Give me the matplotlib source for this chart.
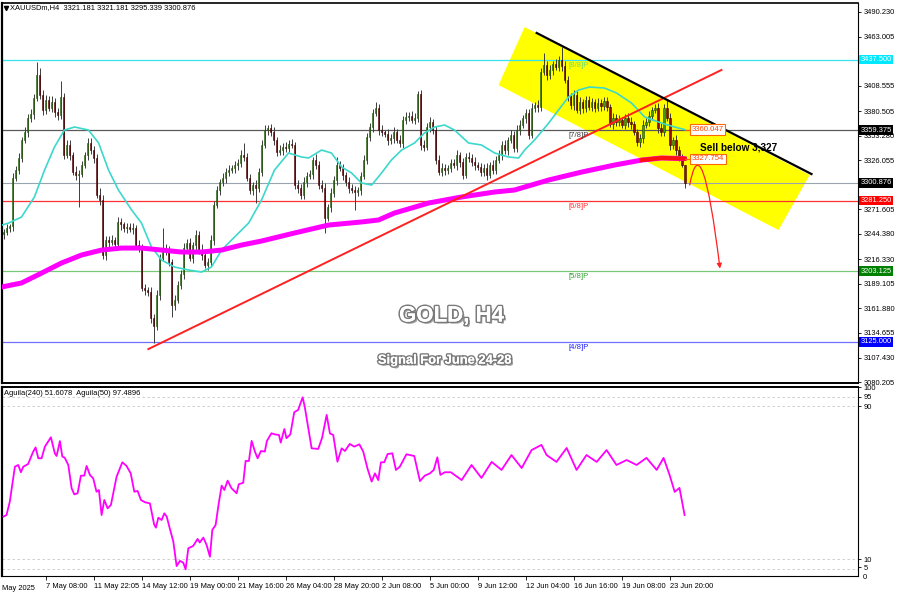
import numpy as np
import matplotlib
matplotlib.use('Agg')
import matplotlib.pyplot as plt
import matplotlib.patheffects as pe
import matplotlib.transforms as mtransforms
from matplotlib.patches import Polygon, FancyArrowPatch
from matplotlib.path import Path

plt.rcParams['font.family'] = ['Liberation Sans', 'DejaVu Sans']

# XAUUSD H4 candles (bar index = position on chart)
first_open = 3244.0
closes = [
    3246.5, 3250.9, 3253.1, 3306.3, 3315.2, 3328.5, 3348.4, 3357.3, 3372.8, 3377.2,
    3394.9, 3420.4, 3398.3, 3381.7, 3392.7, 3383.9, 3390.5, 3379.4, 3376.1, 3396.0,
    3332.0, 3342.9, 3331.8, 3313.0, 3309.6, 3311.0, 3320.7, 3331.8, 3345.1, 3337.3,
    3328.5, 3287.5, 3281.9, 3221.0, 3237.6, 3235.4, 3237.6, 3233.2, 3257.6, 3255.0,
    3250.9, 3252.0, 3249.8, 3250.9, 3232.1, 3228.8, 3184.4, 3182.2, 3180.0, 3151.2,
    3142.3, 3176.7, 3217.7, 3228.8, 3226.5, 3213.2, 3165.6, 3171.1, 3187.8, 3199.9,
    3228.8, 3234.3, 3217.7, 3232.1, 3243.2, 3226.5, 3221.0, 3209.9, 3213.2, 3237.6,
    3276.4, 3293.0, 3301.9, 3306.3, 3313.0, 3315.2, 3317.4, 3320.7, 3322.9, 3331.8,
    3329.6, 3306.3, 3293.0, 3298.6, 3295.2, 3313.0, 3342.9, 3359.5, 3361.7, 3357.3,
    3348.4, 3335.1, 3337.3, 3340.7, 3339.6, 3344.0, 3342.9, 3298.6, 3295.2, 3287.5,
    3301.9, 3308.5, 3310.7, 3326.3, 3320.7, 3298.6, 3295.2, 3262.0, 3274.2, 3289.7,
    3304.1, 3320.7, 3317.4, 3309.6, 3301.9, 3295.2, 3293.0, 3290.8, 3293.0, 3308.5,
    3326.3, 3351.7, 3362.8, 3378.3, 3383.9, 3359.5, 3357.0, 3355.0, 3348.4, 3350.6,
    3357.3, 3348.4, 3345.1, 3370.6, 3373.9, 3375.0, 3370.6, 3372.8, 3399.4, 3342.9,
    3340.7, 3362.8, 3368.4, 3359.5, 3326.3, 3313.0, 3317.4, 3315.2, 3317.4, 3322.9,
    3320.7, 3331.8, 3324.0, 3309.6, 3329.6, 3328.5, 3324.0, 3320.7, 3318.0, 3313.0,
    3317.4, 3309.6, 3320.7, 3315.2, 3326.3, 3331.8, 3342.9, 3337.3, 3348.4, 3354.0,
    3339.6, 3359.5, 3365.0, 3372.8, 3378.3, 3354.0, 3383.9, 3387.2, 3385.0, 3423.8,
    3431.5, 3420.4, 3426.0, 3432.6, 3429.3, 3437.1, 3430.4, 3414.9, 3397.2, 3387.2,
    3398.3, 3381.7, 3390.5, 3383.9, 3392.7, 3385.0, 3390.5, 3383.9, 3389.4, 3386.1,
    3391.6, 3385.0, 3366.1, 3372.8, 3368.4, 3370.6, 3365.0, 3372.8, 3368.4, 3366.0,
    3357.3, 3346.2, 3350.6, 3365.0, 3368.4, 3375.0, 3381.7, 3383.9, 3361.7, 3357.3,
    3383.9, 3372.8, 3342.9, 3348.4, 3337.3, 3329.6, 3321.181, 3300.876,
]
wick_up = [
    3, 4, 2, 6, 4, 5, 3, 5, 4, 6, 5, 14, 8, 5, 6, 4, 7, 5, 4, 18,
    4, 6, 5, 3, 7, 4, 5, 3, 6, 5, 4, 4, 8, 6, 5, 4, 6, 3, 5, 4,
    3, 5, 4, 6, 3, 5, 4, 5, 3, 6, 4, 5, 4, 22, 4, 5, 3, 6, 4, 5,
    5, 4, 6, 3, 5, 4, 7, 3, 5, 6, 4, 5, 3, 6, 4, 5, 3, 4, 5, 6,
    13, 4, 5, 3, 6, 4, 5, 6, 3, 4, 5, 3, 6, 4, 5, 4, 6, 3, 5, 4,
    6, 5, 4, 3, 7, 4, 5, 6, 3, 5, 4, 9, 5, 4, 3, 6, 5, 4, 3, 5,
    6, 4, 5, 4, 7, 4, 5, 3, 6, 4, 5, 3, 6, 4, 5, 4, 6, 5, 3, 4,
    6, 4, 5, 3, 4, 6, 5, 4, 3, 5, 4, 6, 3, 5, 4, 5, 4, 6, 3, 5,
    4, 5, 3, 6, 4, 5, 4, 6, 3, 5, 4, 5, 6, 3, 5, 4, 5, 3, 6, 4,
    13, 4, 5, 3, 6, 4, 14, 5, 4, 3, 5, 4, 6, 3, 5, 4, 5, 3, 6, 4,
    5, 4, 3, 6, 4, 5, 3, 4, 6, 5, 4, 3, 5, 6, 4, 5, 3, 4, 5, 6,
    4, 9, 5, 3, 6, 4, 3, 0,
]
wick_dn = [
    5, 3, 4, 6, 3, 5, 4, 3, 6, 4, 5, 3, 4, 6, 5, 3, 4, 5, 6, 4,
    5, 4, 6, 3, 5, 35, 4, 3, 5, 4, 6, 3, 5, 4, 6, 5, 3, 4, 5, 6,
    4, 5, 3, 6, 4, 5, 3, 5, 4, 6, 19, 4, 5, 3, 6, 4, 13, 5, 3, 4,
    5, 4, 3, 6, 5, 4, 6, 3, 5, 4, 5, 3, 6, 4, 5, 4, 3, 5, 6, 4,
    5, 3, 4, 6, 17, 4, 5, 3, 6, 4, 5, 4, 3, 6, 4, 5, 3, 4, 6, 5,
    4, 5, 3, 6, 4, 5, 4, 17, 3, 5, 4, 6, 3, 5, 4, 5, 3, 20, 4, 5,
    3, 5, 4, 6, 3, 5, 4, 3, 6, 4, 5, 3, 4, 6, 5, 4, 3, 5, 4, 6,
    5, 3, 6, 4, 5, 3, 4, 6, 5, 4, 3, 5, 6, 4, 3, 5, 4, 6, 3, 5,
    4, 6, 3, 5, 4, 3, 6, 4, 5, 3, 5, 4, 6, 3, 5, 4, 3, 5, 6, 4,
    3, 5, 4, 6, 3, 4, 5, 3, 6, 4, 5, 3, 4, 6, 5, 3, 4, 5, 3, 6,
    4, 5, 3, 6, 4, 5, 3, 4, 6, 5, 3, 4, 5, 6, 3, 5, 4, 3, 5, 4,
    5, 3, 6, 4, 5, 4, 3, 5.5,
]

# moving averages
ma_fast_x = [-0.7, 1.7, 6, 10.3, 13.7, 17, 20.3, 23.7, 28.3, 31.7, 35, 38.3, 42.7, 46, 49.3,
             52.7, 57, 61.7, 66, 69.3, 72.7, 77, 81.7, 86, 90.3, 95, 99.3, 101.7, 106, 109.3,
             112.7, 116, 119.3, 122.7, 126, 129.3, 132.7, 137, 140.3, 143.7, 147, 150.3, 155,
             159.3, 163.7, 168.3, 171.7, 173.7, 177, 181.7, 185, 188.3, 191.7, 195.3, 200.3,
             204.3, 209.3, 213.7, 219.3, 223.7, 227]
ma_fast_y = [3254.0, 3256.4, 3263.1, 3285.3, 3315.2, 3340.7, 3359.5, 3362.8, 3359.5, 3345.1,
             3315.2, 3293.0, 3270.9, 3256.4, 3229.9, 3215.4, 3207.7, 3204.4, 3202.1, 3207.7,
             3226.5, 3240.9, 3256.4, 3281.9, 3315.0, 3334.0, 3329.6, 3328.5, 3337.3, 3334.0,
             3318.5, 3311.9, 3300.8, 3298.5, 3311.9, 3326.3, 3337.3, 3345.1, 3356.2, 3362.8,
             3365.0, 3359.5, 3345.1, 3342.9, 3334.0, 3329.6, 3328.5, 3337.3, 3348.4, 3367.2,
             3381.7, 3396.0, 3403.8, 3407.1, 3406.0, 3400.5, 3389.4, 3373.9, 3367.2, 3362.8,
             3360.0]
ma_slow_x = [-0.7, 6, 12.7, 19.3, 26, 32.7, 39.3, 46, 52.7, 59.3, 66, 72.7, 79.3, 86, 97,
             108.3, 119.3, 125, 130.3, 141.7, 152.7, 163.7, 170.3, 181.7, 192.7, 203.7,
             212.7, 219.3, 227]
ma_slow_y = [3185.5, 3190.0, 3201.0, 3212.1, 3221.0, 3226.5, 3228.7, 3228.7, 3226.5, 3224.3,
             3224.3, 3226.5, 3232.0, 3236.5, 3245.4, 3254.2, 3257.6, 3259.8, 3267.5, 3278.6,
             3285.3, 3290.8, 3293.0, 3304.1, 3312.9, 3320.7, 3326.2, 3328.5, 3327.8]

# Aguila oscillator
ind_x = [0, 1.0, 2.1, 3.8, 4.9, 5.8, 6.6, 8.2, 9.9, 10.7, 11.6, 12.7, 13.8, 15.8, 17.1, 17.7,
         18.8, 19.6, 20.4, 21.6, 22.7, 23.6, 24.7, 25.8, 26.9, 27.7, 28.8, 29.9, 31.0, 31.8,
         32.7, 33.6, 34.7, 35.8, 37.7, 39.6, 41.0, 42.4, 43.6, 44.7, 45.8, 47.1, 48.8, 50.2,
         50.8, 51.6, 52.7, 53.6, 54.4, 55.4, 56.6, 57.7, 58.8, 59.9, 60.7, 61.6, 63.2, 64.7,
         65.4, 66.6, 67.7, 68.8, 69.6, 70.7, 71.6, 72.7, 73.6, 74.7, 76.0, 77.7, 78.4, 79.9,
         80.7, 81.8, 82.7, 83.8, 84.7, 85.8, 87.1, 87.8, 89.3, 90.4, 91.8, 92.4, 93.6, 94.3,
         95.6, 96.9, 98.2, 99.7, 100.4, 102.7, 104.9, 106.2, 107.7, 108.8, 109.9, 111.3, 112.7,
         113.8, 115.4, 116.9, 118.6, 119.9, 121.3, 122.7, 123.8, 124.9, 125.8, 126.9, 128.0,
         129.6, 130.8, 132.1, 134.3, 136.9, 138.8, 140.4, 142.1, 143.4, 144.6, 145.6, 147.1,
         149.1, 152.7, 156, 159.3, 162.7, 166, 169.3, 172.7, 176, 179.3, 181, 184.3, 187.7,
         191, 194.3, 197.7, 201, 204.3, 207.7, 211, 214.3, 217.7, 220, 222, 223.7, 225.3, 227]
ind_y = [32.4, 33.2, 40.2, 58.5, 59.4, 55.6, 58.5, 59.9, 66.4, 68.6, 62.9, 62.9, 69.0, 73.9,
         65.5, 64.1, 71.9, 63.8, 63.2, 59.4, 47.2, 44.0, 44.6, 53.8, 53.8, 58.9, 54.2, 52.4,
         45.4, 46.3, 33.2, 41.1, 36.7, 38.5, 53.3, 60.8, 58.9, 55.0, 45.4, 45.8, 41.1, 39.9,
         39.3, 28.3, 26.6, 31.8, 30.6, 34.1, 32.4, 26.3, 19.3, 6.5, 9.2, 8.3, 4.8, 15.8, 17.0,
         20.7, 18.8, 21.4, 17.5, 11.4, 25.4, 28.0, 37.9, 48.6, 46.3, 51.2, 47.2, 44.6, 49.3,
         50.1, 61.5, 61.5, 72.0, 66.4, 62.9, 66.7, 66.4, 72.0, 76.0, 75.4, 75.1, 71.1, 78.2,
         73.4, 75.4, 87.0, 88.2, 94.8, 89.9, 68.1, 67.8, 73.7, 85.6, 75.9, 75.1, 61.1, 68.1,
         66.7, 70.4, 69.0, 70.2, 66.4, 57.6, 50.7, 55.0, 51.5, 60.8, 60.8, 65.1, 65.5, 56.8,
         58.5, 65.0, 64.1, 51.0, 53.8, 55.0, 56.8, 63.4, 54.2, 55.6, 55.6, 51.5, 59.4, 52.6,
         61.0, 56.8, 64.6, 57.8, 67.2, 69.9, 64.6, 61.0, 68.3, 56.8, 64.6, 61.0, 67.2, 59.4,
         62.0, 59.4, 63.1, 56.8, 63.1, 54.2, 45.3, 47.4, 33.2]

# Murrey math levels
mm_levels = [3437.5, 3359.375, 3281.25, 3203.125, 3125.0]
mm_names = ['[8/8]P', '[7/8]P', '[6/8]P', '[5/8]P', '[4/8]P']
mm_line_colors = ['#35e3f0', '#5a5a5a', '#ff3030', '#78c878', '#7070ff']
mm_text_colors = ['#70dc70', '#404040', '#ff3030', '#30a030', '#2020ff']
mm_box_colors = ['#00e8ff', '#000000', '#ff0000', '#008000', '#0000ff']
last_price = 3300.876

price_ticks = [3490.230, 3463.005, 3435.780, 3408.555, 3380.505, 3353.280, 3326.055, 3298.830,
               3271.605, 3244.380, 3216.330, 3189.105, 3161.880, 3134.655, 3107.430, 3080.205]
hidden_ticks = [3435.780, 3298.830]   # covered by the level tags
time_ticks = [14, 30, 46, 62, 78, 94, 110, 126, 142, 158, 174, 190, 206, 222]
time_labels = ['7 May 08:00', '11 May 22:05', '14 May 12:00', '19 May 00:00', '21 May 16:00',
               '26 May 04:00', '28 May 20:00', '2 Jun 08:00', '5 Jun 00:00', '9 Jun 12:00',
               '12 Jun 04:00', '16 Jun 16:00', '19 Jun 08:00', '23 Jun 20:00']

# drawings
channel_x = [173.7, 165.0, 258.3, 268.7]
channel_y = [3473.6, 3409.3, 3248.7, 3309.6]
res_x, res_y = [177.7, 269.3], [3467.0, 3310.7]
sup_x, sup_y = [48.3, 239.3], [3116.8, 3426.0]

opens = np.array([first_open] + closes[:-1])
c = np.array(closes)
highs = np.maximum(opens, c) + np.array(wick_up)
lows = np.minimum(opens, c) - np.array(wick_dn)
idx = np.arange(len(c))

fig = plt.figure(figsize=(9, 6), dpi=100)
ax = fig.add_axes([2 / 900, 217 / 600, 856 / 900, 380 / 600])
ax2 = fig.add_axes([2 / 900, 24 / 600, 856 / 900, 189 / 600])

ax.set_xlim(-0.5, 284.8)
ax.set_ylim(3079.2, 3500.2)
ax2.set_xlim(-0.5, 284.8)
ax2.set_ylim(1.3, 100.2)

# channel and trend lines
ax.add_patch(Polygon(list(zip(channel_x, channel_y)), closed=True, fc='#ffff00', ec='none', zorder=1))
for lvl, lc in zip(mm_levels, mm_line_colors):
    ax.axhline(lvl, color=lc, lw=0.9, zorder=2)
ax.axhline(last_price, color='#9aa4ae', lw=0.8, zorder=2)
ax.plot(sup_x, sup_y, color='#ff2020', lw=1.4, zorder=6)
ax.plot(res_x, res_y, color='black', lw=1.6, zorder=6)

# candles
bull = c >= opens
ax.vlines(idx, lows, highs, color='#3c3c3c', lw=0.7, zorder=3)
body = np.maximum(np.abs(c - opens), 0.8)
ax.bar(idx[bull], body[bull], bottom=opens[bull], width=0.62, color='#3f9a1c',
       edgecolor='#1e4a0a', lw=0.4, zorder=4)
ax.bar(idx[~bull], body[~bull], bottom=c[~bull], width=0.62, color='#8e0c0c',
       edgecolor='#3a0000', lw=0.4, zorder=4)

# moving averages
ax.plot(ma_fast_x, ma_fast_y, color='#3cd8cc', lw=1.2, zorder=5)
ax.plot(ma_slow_x, ma_slow_y, color='#ff00ff', lw=3.6, zorder=5, solid_capstyle='round')
ms_x = np.array(ma_slow_x)
ax.plot(ms_x[ms_x >= 212], np.array(ma_slow_y)[ms_x >= 212], color='#ff1010', lw=3.0, zorder=5)

# price tags at the MAs
for yv, s in [(3360.047, '3360.047'), (3327.754, '3327.754')]:
    ax.plot([227, 229.3], [yv, yv], color='#ff5a1a', lw=0.8, zorder=6)
    ax.text(229.4, yv, s, fontsize=5.6, color='#ff4500', va='center', ha='left', zorder=8,
            bbox=dict(boxstyle='square,pad=0.2', fc='white', ec='#ff6a00', lw=0.8))

ax.text(232, 3340.6, 'Sell below 3,327', fontsize=7.2, fontweight='bold', va='center', zorder=8)

# curved arrow
arrow_path = Path([(228.7, 3298.5), (232.7, 3370.6), (238.8, 3206.0)],
                  [Path.MOVETO, Path.CURVE3, Path.CURVE3])
ax.add_patch(FancyArrowPatch(path=arrow_path, arrowstyle='-|>', mutation_scale=7,
                             color='#ff2020', lw=0.9, zorder=7))

# murrey labels
for lvl, name, tc in zip(mm_levels, mm_names, mm_text_colors):
    ax.text(188.3, lvl - 2.5, name, fontsize=5.6, color=tc, va='top', ha='left', zorder=7)

# title texts
fx = [pe.withSimplePatchShadow(offset=(1.5, -1.5), shadow_rgbFace='#444444', alpha=0.5),
      pe.withStroke(linewidth=2.2, foreground='#7a7a7a'), pe.Normal()]
ax.text(149.3, 3153.4, 'GOLD, H4', fontsize=16, fontweight='bold', color='white',
        ha='center', va='center', path_effects=fx, zorder=8)
ax.text(147, 3104, 'Signal For June 24-28', fontsize=9.3, fontweight='bold', color='white',
        ha='center', va='center', path_effects=fx, zorder=8)

# header
ax.plot([0.0045], [0.988], marker='v', ms=3, color='black', transform=ax.transAxes, clip_on=False)
ax.text(0.009, 0.988, 'XAUUSDm,H4  3321.181 3321.181 3295.339 3300.876', fontsize=5.4,
        transform=ax.transAxes, va='center', ha='left')

# axes styling
for a in (ax, ax2):
    a.yaxis.tick_right()
    a.tick_params(axis='y', direction='out', length=2.5, width=0.6, pad=1.5, labelsize=5.4)
    for sp in a.spines.values():
        sp.set_color('black')
ax.spines['left'].set_linewidth(1.6)
ax.spines['top'].set_linewidth(1.2)
ax.spines['bottom'].set_linewidth(1.4)
ax.spines['right'].set_linewidth(0.8)
ax2.spines['left'].set_linewidth(1.6)
ax2.spines['top'].set_linewidth(1.4)
ax2.spines['right'].set_linewidth(0.8)
ax2.spines['bottom'].set_linewidth(0.8)

ax.set_xticks([])
ax.set_yticks(price_ticks)
ax.set_yticklabels(['' if p in hidden_ticks else '%.3f' % p for p in price_ticks])

blend = mtransforms.blended_transform_factory(ax.transAxes, ax.transData)
for lvl, bc in zip(mm_levels, mm_box_colors):
    ax.text(1.003, lvl, '%.3f' % lvl, transform=blend, fontsize=5.4, color='white', va='center',
            ha='left', clip_on=False, zorder=10,
            bbox=dict(boxstyle='square,pad=0.18', fc=bc, ec='none'))
ax.text(1.003, last_price, '%.3f' % last_price, transform=blend, fontsize=5.4, color='white',
        va='center', ha='left', clip_on=False, zorder=10,
        bbox=dict(boxstyle='square,pad=0.18', fc='black', ec='none'))

# oscillator panel
for lv in [95, 90, 10, 5]:
    ax2.axhline(lv, color='#c8c8c8', lw=0.6, ls=(0, (3, 3)), zorder=1)
ax2.plot(ind_x, ind_y, color='#ff00ff', lw=1.3, zorder=3)
ax2.set_yticks([100, 95, 90, 10, 6])
ax2.set_yticklabels(['100', '95', '90', '10', '5'])
blend2 = mtransforms.blended_transform_factory(ax2.transAxes, ax2.transData)
ax2.text(1.006, 0.6, '0', transform=blend2, fontsize=5.4, va='center', ha='left', clip_on=False)
ax2.text(0.002, 0.985, 'Aguila(240) 51.6078  Aguila(50) 97.4896', fontsize=5.4,
         transform=ax2.transAxes, va='top', ha='left')

ax2.set_xticks(time_ticks)
ax2.set_xticklabels(time_labels, ha='left')
ax2.tick_params(axis='x', direction='out', length=3, width=0.6, pad=2, labelsize=5.4)
ax2.text(0.0, -0.045, 'May 2025', transform=ax2.transAxes, fontsize=5.4, va='top', ha='left')

fig.savefig('out.png', dpi=100, facecolor='white')
